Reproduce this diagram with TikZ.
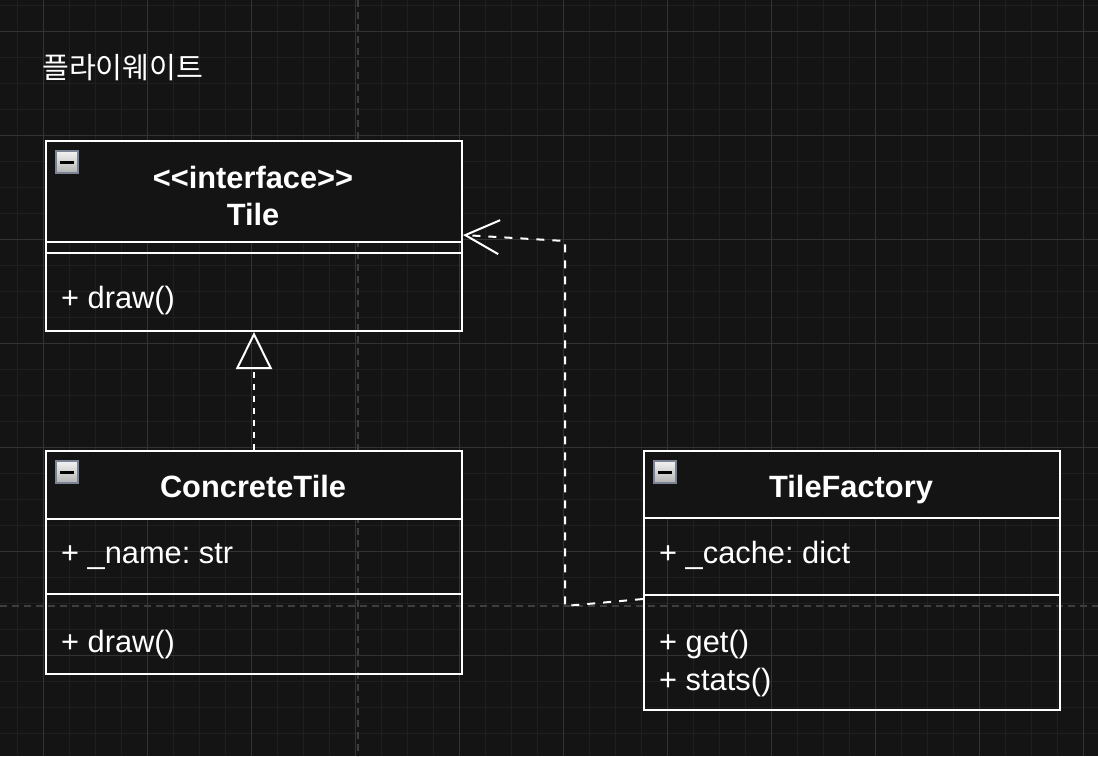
\documentclass[tikz,border=0pt]{standalone}
\usepackage{fontspec}
\setmainfont{Liberation Sans}[Ligatures=TeXOff]
\newfontfamily\krfont{Noto Sans CJK KR}
\usetikzlibrary{arrows.meta, positioning}
\definecolor{bg}{HTML}{141414}
\definecolor{gridminor}{HTML}{1F1F1F}
\definecolor{gridmajor}{HTML}{333333}
\definecolor{pageline}{HTML}{3E3E3E}
\definecolor{iconedge}{HTML}{7C8494}
\tikzset{
    umlpart/.style={draw=white, line width=2pt, minimum width=416pt, anchor=north west, inner sep=0pt},
    umlhead/.style={umlpart, fill=bg},
    member/.style={anchor=base west, text=white, inner sep=0pt, font=\frenchspacing\fontsize{30.8}{36}\selectfont},
    classname/.style={anchor=base, text=white, inner sep=0pt, font=\bfseries\fontsize{30.8}{36}\selectfont},
    link/.style={white, line width=2pt}
}
\newcommand{\minusicon}[1]{
    \path[draw=iconedge, line width=2pt, top color=white!95!black, bottom color=white!70!black] #1 rectangle ++(22,22);
    \fill[black] #1 ++(4,9.5) rectangle ++(14,3.5);
}

\begin{document}
\begin{tikzpicture}[x=1pt, y=-1pt]
    \useasboundingbox (0,0) rectangle (1098,756);
    \fill[bg] (0,0) rectangle (1098,756);
    \foreach \x in {17,43,...,1098} \draw[gridminor, line width=1pt] (\x,0) -- (\x,756);
    \foreach \y in {5,31,...,756} \draw[gridminor, line width=1pt] (0,\y) -- (1098,\y);
    \foreach \x in {43,147,...,1098} \draw[gridmajor, line width=1pt] (\x,0) -- (\x,756);
    \foreach \y in {31,135,...,756} \draw[gridmajor, line width=1pt] (0,\y) -- (1098,\y);
    \draw[pageline, line width=2pt, dash pattern=on 7pt off 5pt] (358,0) -- (358,756);
    \draw[pageline, line width=2pt, dash pattern=on 7pt off 5pt] (0,606) -- (1098,606);

    \node[anchor=base west, text=white, inner sep=0pt, font=\krfont\fontsize{29.2}{34}\selectfont] (heading) at (42,78) {플라이웨이트};

    \node[umlhead, minimum height=101pt] (tilehead) at (45,140) {};
    \node[umlpart, minimum height=11pt] (tileattr) at (45,241) {};
    \node[umlpart, minimum height=78pt] (tileops) at (45,252) {};
    \node[classname] (tilestereo) at (253,188) {<<interface>>};
    \node[classname] (tilename) at (253,225) {Tile};
    \node[member] (tiledraw) at (61,308) {+ draw()};
    \minusicon{(56,151)}

    \node[umlhead, minimum height=68pt] (concretehead) at (45,450) {};
    \node[umlpart, minimum height=75pt] (concreteattr) at (45,518) {};
    \node[umlpart, minimum height=80pt] (concreteops) at (45,593) {};
    \node[classname] (concretename) at (253,497) {ConcreteTile};
    \node[member] (concretefield) at (61,563) {+ \_name: str};
    \node[member] (concretedraw) at (61,652) {+ draw()};
    \minusicon{(56,461)}

    \node[umlhead, minimum height=67pt] (factoryhead) at (643,450) {};
    \node[umlpart, minimum height=77pt] (factoryattr) at (643,517) {};
    \node[umlpart, minimum height=115pt] (factoryops) at (643,594) {};
    \node[classname] (factoryname) at (851,497) {TileFactory};
    \node[member] (factoryfield) at (659,563) {+ \_cache: dict};
    \node[member] (factoryget) at (659,652) {+ get()};
    \node[member] (factorystats) at (659,690) {+ stats()};
    \minusicon{(654,461)}

    \draw[link, dash pattern=on 6pt off 6pt, -{Triangle[open, length=37pt, width=36pt]}] (concretehead.north) -- (tileops.south);
    \draw[link, dash pattern=on 8pt off 8pt, -{Straight Barb[length=34pt, width=34pt]}]
        ([yshift=-5pt]factoryops.north west) -- (565,606) -- (565,241) -- ([yshift=6pt]tileattr.north east);
\end{tikzpicture}
\end{document}
